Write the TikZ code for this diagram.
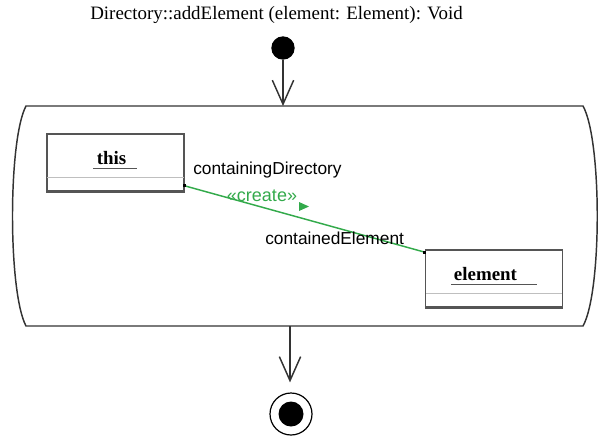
\documentclass[tikz,border=0pt]{standalone}
\usepackage{fontspec}
\setmainfont{Liberation Serif}
\setsansfont{Liberation Sans}
\usetikzlibrary{arrows.meta}
\definecolor{umlgreen}{RGB}{51,170,75}
\definecolor{boxgray}{RGB}{85,85,85}
\tikzset{
  flowarrow/.style={draw=black!80, line width=1.1pt,
    -{Straight Barb[length=18pt,width=16pt,line width=1.1pt]}},
  objbox/.style={draw=boxgray, line width=1.2pt, minimum width=102.5pt, minimum height=42.75pt, inner sep=0pt},
  sep/.style={draw=black!25, line width=0.7pt},
  objname/.style={font=\fontsize{14.2pt}{16pt}\selectfont\bfseries, anchor=base, inner sep=0pt},
  rolelabel/.style={font=\fontsize{13pt}{15pt}\sffamily, anchor=base west, inner sep=0pt},
  under/.style={draw=boxgray, line width=1.4pt},
}
\begin{document}
\begin{tikzpicture}[x=0.75pt,y=-0.75pt]
\useasboundingbox (0,0) rectangle (603,437);
% title
\node[font=\fontsize{14.2pt}{16pt}\selectfont, anchor=base, inner sep=0pt] (title) at (276.5,19) {Directory::addElement (element: Element): Void};
% initial node
\node[circle, fill=black, minimum size=17.5pt, inner sep=0pt] (init) at (283,48) {};
% activity outline
\coordinate (acttl) at (26,106);
\coordinate (acttr) at (583,106);
\coordinate (actbr) at (583,326);
\coordinate (actbl) at (26,326);
\draw[draw=black!80, line width=1.1pt] (acttl) -- (acttr)
  .. controls (602,140) and (602,292) .. (actbr) -- (actbl)
  .. controls (8,292) and (8,140) .. (acttl) -- cycle;
\draw[flowarrow] (init) -- (init |- acttl);
% object boxes
\node[objbox] (thisbox) at (115.5,162.5) {};
\draw[sep] (47,177) -- (184,177);
\draw[boxgray, line width=2.2pt] (thisbox.south west) -- (thisbox.south east);
\node[objname] (thisname) at (111.5,164) {this};
\draw[under] (93,168.5) -- (137,168.5);

\node[objbox] (elembox) at (494,278.5) {};
\draw[sep] (426,293.5) -- (562,293.5);
\draw[boxgray, line width=2.2pt] (elembox.south west) -- (elembox.south east);
\node[objname] (elemname) at (485.5,280) {element};
\draw[under] (451,284.5) -- (537,284.5);

% link
\coordinate (linkA) at ([yshift=4.5pt]thisbox.south east);
\coordinate (linkB) at ([yshift=-2.25pt]elembox.north west);
\draw[umlgreen, line width=1.1pt] (linkA) -- (linkB);
\fill[black] ([shift={(-1.2pt,-1.2pt)}]linkA) rectangle ([shift={(1.2pt,1.2pt)}]linkA);
\fill[black] ([shift={(-1.2pt,-1.2pt)}]linkB) rectangle ([shift={(1.2pt,1.2pt)}]linkB);
\node[rolelabel] (rolea) at (193,174) {containingDirectory};
\node[rolelabel] (roleb) at (265,244) {containedElement};
\node[font=\fontsize{13.5pt}{15pt}\sffamily, text=umlgreen, anchor=base, inner sep=0pt] (create) at (262,201) {«create»};
\fill[umlgreen] (299,202) -- (309,206.5) -- (299,211) -- cycle;

% final node
\node[circle, draw=black, line width=0.9pt, minimum size=31.5pt, inner sep=0pt] (final) at (291,414) {};
\node[circle, fill=black, minimum size=18.75pt, inner sep=0pt] (finaldot) at (final.center) {};
\coordinate (actout) at (290,326);
\draw[flowarrow] (actout) -- ([yshift=7.5pt]final.north -| actout);
\end{tikzpicture}
\end{document}
